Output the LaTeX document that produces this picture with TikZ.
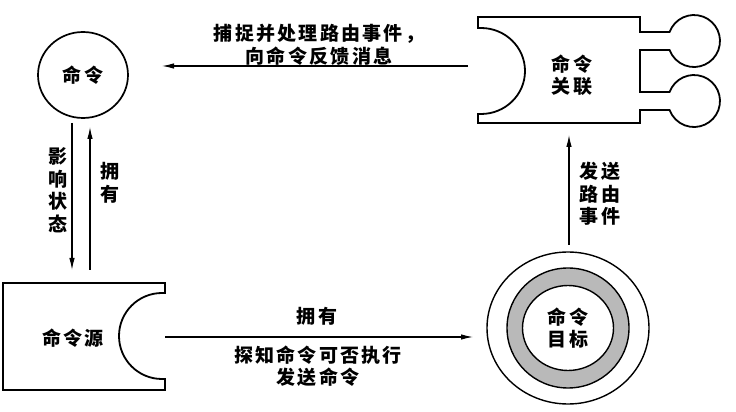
\documentclass[tikz,border=0pt]{standalone}
\usepackage{fontspec}
\newfontfamily\cjk{Noto Sans CJK SC}[LetterSpace=12]
\usetikzlibrary{arrows.meta,shapes.geometric}
\begin{document}
\begin{tikzpicture}[x=1pt,y=1pt,
  every node/.style={font=\cjk\bfseries\fontsize{19}{22.5}\selectfont, align=center, inner sep=0pt},
  outline/.style={draw, line width=1.8pt, line join=miter},
  ring/.style={draw, ellipse, line width=1.4pt},
  arr/.style={line width=1.1pt, -{Latex[length=12pt,width=5.5pt]}},
]
\useasboundingbox (0,0) rectangle (736,412);

% command circle
\node[ring, line width=1.7pt, minimum width=90pt, minimum height=86pt] (cmd) at (83,337) {命令};

% command source box
\draw[outline] (3,129) -- (165,129) -- (165,119) -- (162,119)
  arc[start angle=90, end angle=270, radius=43] -- (165,33) -- (165,22) -- (3,22) -- cycle;
\node (src) at (73,74) {命令源};

% command association box
\draw[outline] (478,395) -- (640,395) -- (640,380) -- (669.6,380)
  arc[start angle=159.7, end angle=-159.7, radius=26] -- (640,362) -- (640,320) -- (669.6,320)
  arc[start angle=159.7, end angle=-159.7, radius=26] -- (640,302) -- (640,289) -- (478,289)
  -- (478,298) -- (481,298)
  arc[start angle=-90, end angle=90, x radius=44, y radius=43] -- (478,384) -- cycle;
\node (assoc) at (572,337) {命令\\关联};

% command target
\node[ring, minimum width=162pt, minimum height=152pt] (tgtouter) at (568,84) {};
\node[ring, fill=gray!55, minimum width=122pt, minimum height=120pt] (tgtring) at (568,84) {};
\node[ring, fill=white, minimum width=91pt, minimum height=85pt] (tgt) at (568,84) {命令\\目标};

% arrow end points
\coordinate (a1s) at (468,346);
\coordinate (a1e) at (162,346);
\coordinate (a2s) at (72,289);
\coordinate (a2e) at (72,142);
\coordinate (a3s) at (90,142);
\coordinate (a3e) at (90,285);
\coordinate (a4s) at (165,75);
\coordinate (a4e) at (473,75);
\coordinate (a5s) at (569,167);
\coordinate (a5e) at (569,277);

\draw[arr] (a1s) -- (a1e);
\draw[arr] (a2s) -- (a2e);
\draw[arr] (a3s) -- (a3e);
\draw[arr] (a4s) -- (a4e);
\draw[arr] (a5s) -- (a5e);

% labels
\node (l1) at (319,367) {捕捉并处理路由事件，\\向命令反馈消息};
\node (l2) at (58,222) {影\\响\\状\\态};
\node (l3) at (110,229) {拥\\有};
\node (l4) at (317,96) {拥有};
\node (l5) at (318,46) {探知命令可否执行\\发送命令};
\node (l6) at (600,218) {发送\\路由\\事件};
\end{tikzpicture}
\end{document}
